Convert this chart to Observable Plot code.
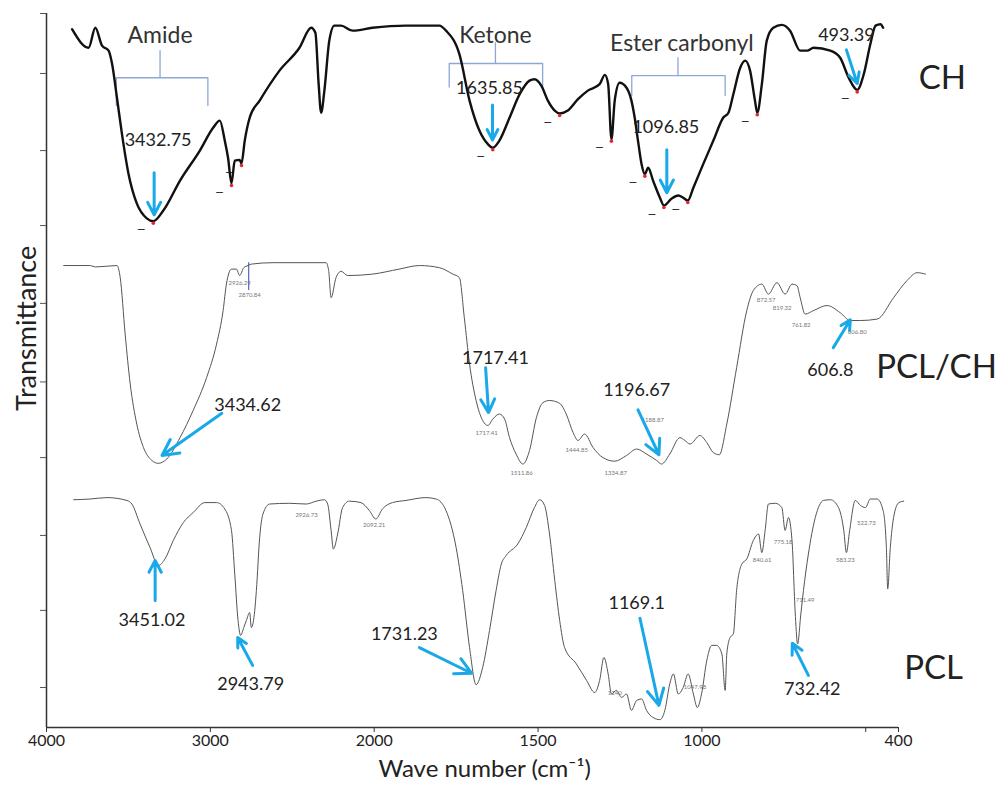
<!DOCTYPE html>
<html><head><meta charset="utf-8">
<script src="https://cdn.jsdelivr.net/npm/d3@7"></script>
<script src="https://cdn.jsdelivr.net/npm/@observablehq/plot@0.6"></script>
<style>body{margin:0;background:#fff}</style>
</head><body><div id="chart"></div>
<script>
// Spectra: [wave number (cm^-1), transmittance (arbitrary, stacked)]
const chSpectrum = [[3844,978],[3743,952],[3702,980],[3661,955],[3621,948],[3601,931],[3570,882],[3540,832],[3500,776],[3449,734],
[3388,713],[3348,709],[3287,724],[3185,766],[3064,808],[2983,840],[2942,850],[2912,822],[2892,798],[2871,762],
[2851,794],[2821,795],[2810,790],[2790,822],[2760,854],[2699,878],[2578,920],[2456,952],[2385,980],[2359,973],
[2339,901],[2324,861],[2304,892],[2274,962],[2243,983],[2202,983],[2132,976],[2010,980],[1903,983],[1801,983],
[1781,976],[1740,943],[1709,878],[1679,836],[1653,817],[1638,812],[1618,822],[1587,854],[1556,887],[1526,906],
[1511,908],[1490,899],[1470,878],[1449,864],[1434,860],[1409,864],[1378,880],[1348,892],[1312,901],[1296,914],
[1286,901],[1276,824],[1266,878],[1251,903],[1230,896],[1215,878],[1205,854],[1195,822],[1184,789],[1174,775],
[1164,784],[1149,766],[1128,742],[1116,731],[1092,741],[1072,745],[1057,742],[1043,738],[1026,756],[996,789],
[965,822],[935,854],[919,861],[904,887],[883,924],[868,934],[853,920],[838,878],[831,861],[817,901],
[802,962],[782,980],[756,984],[731,976],[700,948],[679,948],[659,952],[608,948],[578,938],[552,910],
[526,893],[506,915],[486,957],[470,983],[455,985],[447,980]];

const pclchSpectrum = [[3895,647],[3733,647],[3702,645],[3570,647],[3550,630],[3520,551],[3489,481],[3449,425],[3408,392],[3357,374],
[3317,370],[3266,376],[3185,406],[3105,444],[3023,490],[2962,537],[2922,584],[2902,621],[2871,642],[2841,642],
[2821,633],[2796,644],[2770,647],[2750,649],[2618,651],[2294,651],[2278,640],[2263,602],[2233,630],[2202,639],
[2162,633],[2010,635],[1924,642],[1862,647],[1801,644],[1760,635],[1740,630],[1725,574],[1709,509],[1689,458],
[1669,430],[1653,423],[1638,432],[1618,439],[1602,432],[1587,406],[1567,383],[1546,369],[1526,388],[1505,434],
[1485,455],[1465,458],[1434,454],[1414,439],[1393,413],[1378,402],[1358,411],[1332,392],[1302,378],[1266,373],
[1230,381],[1199,390],[1169,383],[1138,374],[1123,369],[1098,383],[1067,406],[1052,402],[1036,397],[1006,409],
[985,399],[965,385],[947,382],[924,425],[894,504],[863,584],[843,612],[817,621],[797,607],[771,623],
[746,607],[725,621],[710,619],[700,602],[685,579],[659,584],[618,591],[578,581],[547,570],[516,570],
[465,572],[415,602],[374,626],[343,637],[318,635]];

const pclSpectrum = [[3834,319],[3733,320],[3631,322],[3509,318],[3479,313],[3429,285],[3368,252],[3317,227],[3277,236],[3226,262],
[3165,287],[3105,301],[3033,315],[2962,315],[2912,306],[2871,276],[2851,215],[2831,150],[2815,129],[2796,140],
[2780,150],[2760,161],[2750,140],[2729,164],[2719,192],[2699,266],[2679,299],[2638,313],[2517,314],[2415,313],
[2354,317],[2304,319],[2284,313],[2263,276],[2249,250],[2223,271],[2193,308],[2152,317],[2081,315],[2030,304],
[1995,292],[1975,306],[1944,315],[1903,318],[1842,322],[1811,320],[1781,304],[1750,252],[1730,192],[1709,112],
[1689,60],[1669,84],[1648,136],[1628,192],[1612,229],[1597,241],[1562,257],[1536,280],[1511,308],[1495,319],
[1480,311],[1465,271],[1449,206],[1434,150],[1419,112],[1383,89],[1352,66],[1327,49],[1312,66],[1299,98],
[1286,75],[1276,47],[1261,52],[1245,42],[1230,47],[1215,24],[1199,38],[1184,40],[1169,24],[1149,14],
[1128,11],[1113,24],[1098,61],[1087,75],[1072,47],[1057,56],[1042,75],[1026,47],[1014,28],[1001,47],
[985,94],[970,115],[955,115],[939,103],[929,52],[924,103],[914,126],[904,131],[894,192],[878,229],
[863,236],[843,262],[827,271],[817,245],[807,276],[797,313],[776,314],[756,308],[746,276],[736,294],
[725,262],[715,159],[708,117],[698,159],[690,192],[675,243],[654,294],[629,318],[608,319],[583,308],
[567,276],[559,245],[549,276],[532,318],[516,311],[501,308],[486,320],[465,320],[447,304],[437,252],
[433,194],[425,252],[415,294],[399,315],[384,317]];

// CH picked minima (wave numbers)
const chDips = [3348,2871,2810,1638,1434,1276,1174,1116,1043,831,526];

// Axis ticks (wave numbers); axis is expanded x2 below 2000 cm-1
const xTicks = [4000,3000,2000,1500,1000,500,400];
const xTickLabels = ["4000","3000","2000","1500","1000","","400"];
const yTicks = [56,164,269,378,484,594,703,808,916,1000];

// Group brackets: [label, left, right, middle, bar level, end level, stalk top]
const brackets = [
  ["Amide",3574,3015,3307,910,871,948],
  ["Ketone",1771,1486,1630,930,897,959],
  ["Ester carbonyl",1214,929,1073,913,885,938]
];
const groupLabels = [["Amide",3307,969],["Ketone",1630,969],["Ester carbonyl",1061,958]];
const sampleLabels = [["CH",266,909],["PCL/CH",284,504],["PCL",293,83]];

// Highlighted peaks: [text, wave, level, bold]
const peakLabels = [
  ["3432.75",3319,822,0],["1635.85",1648,895,0],["1096.85",1110,841,0],["493.39",559,969,0],
  ["3434.62",2772,452,1],["1717.41",1630,517,1],["1196.67",1199,472,1],["606.8",608,501,1],
  ["3451.02",3356,150,1],["2943.79",2754,60,1],["1731.23",1908,130,1],["1169.1",1199,174,1],["732.42",663,53,1]
];
// Arrows: [from wave, from level, to wave, to level]
const arrows = [
  [3343,777,3343,718],[1639,872,1639,823],[1107,809,1107,749],[559,949,526,902],
  [2930,440,3295,381],[1660,504,1651,441],[1195,445,1131,382],[599,532,547,571],
  [3337,178,3337,234],[2742,87,2833,126],[1862,112,1703,76],[1189,153,1131,31],[675,73,724,118]
];
// Small instrument peak labels
const tinyLabels = [
  ["2926.29",2821,622],["2870.84",2760,606],["1717.41",1657,412],["1511.86",1550,356],["1444.85",1382,388],
  ["1334.87",1263,356],["1188.87",1150,431],["872.57",804,598],["819.32",755,587],["761.82",697,564],["606.80",526,554],
  ["2926.73",2413,297],["2092.21",2000,284],["1240",1266,48],["1047.98",1021,57],["840.61",816,235],
  ["775.18",752,259],["711.49",685,178],["583.23",562,235],["522.73",498,286]
];
const markerRule = [[2766,612,651]];

// Piecewise axis: below 2000 cm-1 the axis is stretched twofold
const toU = w => w >= 2000 ? w : 2000 - (2000 - w) * 2;

function bracketPath(b){
  const [label,l,r,m,bar,end,top] = b;
  return [[l,end],[l,bar],[m,bar],[m,top],[m,bar],[r,bar],[r,end]].map(p=>({label,x:p[0],y:p[1]}));
}
const bracketPts = brackets.flatMap(bracketPath);
const chMap = new Map(chSpectrum.map(d=>[d[0],d[1]]));
const dipPts = chDips.map(w=>[w,chMap.get(w)]);

const blue = "#19a9e8";
const font = "Lato, 'Open Sans', sans-serif";
const X = d => toU(d[0]);
const Y = d => d[1];

const plot = Plot.plot({
  width: 1001, height: 789,
  marginLeft: 46, marginRight: 103, marginTop: 13, marginBottom: 62,
  style: {fontFamily: font, color: "#222", background: "#fff", overflow: "visible"},
  x: {type: "linear", domain: [toU(4000), toU(400)], range: [46, 898]},
  y: {type: "linear", domain: [0, 1000], range: [727, 13]},
  marks: [
    Plot.ruleX([toU(4000)], {y1: 0, y2: 1000, stroke: "#333", strokeWidth: 1.5}),
    Plot.ruleY([0], {x1: toU(4000), x2: toU(400), stroke: "#333", strokeWidth: 1.5}),
    Plot.axisX({ticks: xTicks.map(toU), tickFormat: u => xTickLabels[xTicks.map(toU).indexOf(u)], tickSize: 5, tickPadding: 2, fontSize: 16, label: null, stroke: "#333"}),
    Plot.axisY({ticks: yTicks, tickFormat: () => "", tickSize: 6, label: null, stroke: "#555"}),
    Plot.line(bracketPts, {x: d => toU(d.x), y: "y", z: "label", stroke: "#8ea8d6", strokeWidth: 1.3, curve: "linear"}),
    Plot.ruleX(markerRule, {x: X, y1: d=>d[1], y2: d=>d[2], stroke: "#5561c4", strokeWidth: 1.2}),
    Plot.line(pclSpectrum, {x: X, y: Y, stroke: "#555", strokeWidth: 1, curve: "monotone-x"}),
    Plot.line(pclchSpectrum, {x: X, y: Y, stroke: "#555", strokeWidth: 1, curve: "monotone-x"}),
    Plot.line(chSpectrum, {x: X, y: Y, stroke: "#111", strokeWidth: 2.4, curve: "monotone-x"}),
    Plot.dot(dipPts, {x: X, y: Y, r: 1.8, fill: "#e8262a", dy: 2}),
    Plot.text(dipPts, {x: X, y: Y, text: () => "—", dx: -12, dy: 8, fontSize: 10, fontWeight: "bold", fill: "#111"}),
    Plot.text(tinyLabels, {x: d=>toU(d[1]), y: d=>d[2], text: d=>d[0], fontSize: 6, fill: "#777"}),
    Plot.arrow(arrows, {x1: d=>toU(d[0]), y1: d=>d[1], x2: d=>toU(d[2]), y2: d=>d[3], stroke: blue, strokeWidth: 3, headLength: 9, headAngle: 55}),
    Plot.text(groupLabels, {x: d=>toU(d[1]), y: d=>d[2], text: d=>d[0], fontSize: 23, fill: "#333"}),
    Plot.text(peakLabels, {x: d=>toU(d[1]), y: d=>d[2], text: d=>d[0], fontSize: 18, fill: "#222", fontWeight: d=>d[3] ? "bold" : "normal"}),
    Plot.text(sampleLabels, {x: d=>toU(d[1]), y: d=>d[2], text: d=>d[0], fontSize: 33, fill: "#222"}),
    Plot.text([559], {y: d=>d, frameAnchor: "left", textAnchor: "middle", dx: -19, rotate: -90, text: () => "Transmittance", fontSize: 27, fill: "#222"}),
    Plot.text([1663], {x: d=>toU(d), frameAnchor: "bottom", textAnchor: "middle", dy: 49, text: () => "Wave number (cm⁻¹)", fontSize: 24, fill: "#222"})
  ]
});
document.getElementById("chart").appendChild(plot);
</script>
</body></html>
